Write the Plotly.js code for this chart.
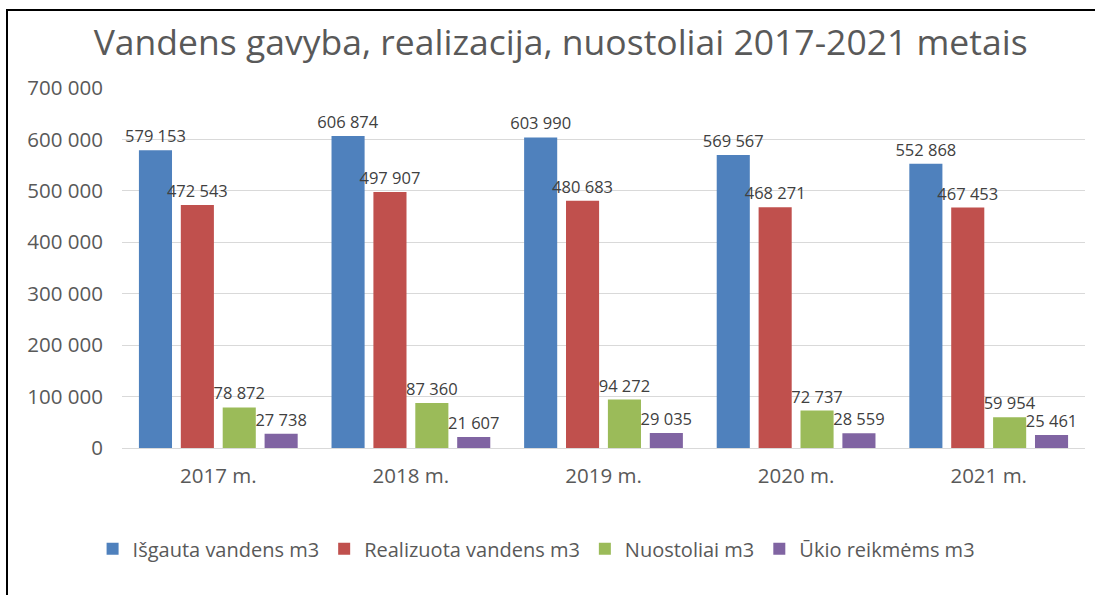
<!DOCTYPE html>
<html>
<head>
<meta charset="utf-8">
<script src="https://cdn.plot.ly/plotly-3.0.1.min.js"></script>
<style>
html,body{margin:0;padding:0;background:#fff;}
#chart{width:1095px;height:595px;}
#frame{position:absolute;left:6px;top:9px;width:1089px;height:586px;border-left:2px solid #000;border-top:2px solid #000;pointer-events:none;}
</style>
</head>
<body>
<div id="chart"></div>
<div id="frame"></div>
<script>
const categories = ['2017 m.', '2018 m.', '2019 m.', '2020 m.', '2021 m.'];
const seriesNames = ['Išgauta vandens m3', 'Realizuota vandens m3', 'Nuostoliai m3', 'Ūkio reikmėms m3'];
const isgauta = [579153, 606874, 603990, 569567, 552868];
const realizuota = [472543, 497907, 480683, 468271, 467453];
const nuostoliai = [78872, 87360, 94272, 72737, 59954];
const ukio = [27738, 21607, 29035, 28559, 25461];
const colors = ['#4F81BD', '#C0504D', '#9BBB59', '#8064A2'];
const yTicks = [0, 100000, 200000, 300000, 400000, 500000, 600000, 700000];

const FONT = 'Open Sans, Noto Sans, sans-serif';
const fmt = v => String(v).replace(/\B(?=(\d{3})+(?!\d))/g, ' ');

const allSeries = [isgauta, realizuota, nuostoliai, ukio];
const traces = allSeries.map((vals, i) => ({
  type: 'bar',
  name: seriesNames[i],
  x: categories,
  y: vals,
  text: vals.map(fmt),
  textposition: 'outside',
  constraintext: 'none',
  textfont: {family: FONT, size: 16.5, color: '#404040'},
  cliponaxis: false,
  marker: {color: colors[i]},
  hoverinfo: 'x+y+name'
}));

const layout = {
  width: 1095,
  height: 595,
  margin: {l: 122, r: 10, t: 88, b: 147},
  paper_bgcolor: '#fff',
  plot_bgcolor: '#fff',
  font: {family: FONT, color: '#595959'},
  title: {
    text: 'Vandens gavyba, realizacija, nuostoliai 2017-2021 metais',
    font: {family: FONT, size: 35.5, color: '#595959'},
    x: 0.512, xanchor: 'center',
    y: 0.928, yanchor: 'middle'
  },
  barmode: 'group',
  bargap: 0.13,
  bargroupgap: 0.21,
  xaxis: {
    type: 'category',
    showgrid: false,
    showline: true,
    linecolor: '#d9d9d9',
    linewidth: 1,
    ticks: '',
    ticklabelstandoff: 9,
    tickfont: {family: FONT, size: 20.5, color: '#595959'},
    fixedrange: true
  },
  yaxis: {
    range: [0, 700000],
    tickvals: yTicks,
    ticktext: yTicks.map(fmt),
    showgrid: true,
    gridcolor: '#d9d9d9',
    gridwidth: 1,
    zeroline: false,
    showline: false,
    ticks: '',
    ticklabelstandoff: 18,
    tickfont: {family: FONT, size: 20.5, color: '#595959'},
    fixedrange: true
  },
  showlegend: true,
  legend: {
    orientation: 'h',
    x: 0.43, xanchor: 'center',
    y: -0.28, yanchor: 'middle',
    font: {family: FONT, size: 20, color: '#595959'},
    itemwidth: 30,
    traceorder: 'normal'
  }
};

Plotly.newPlot('chart', traces, layout, {displayModeBar: false, staticPlot: true});
</script>
</body>
</html>
